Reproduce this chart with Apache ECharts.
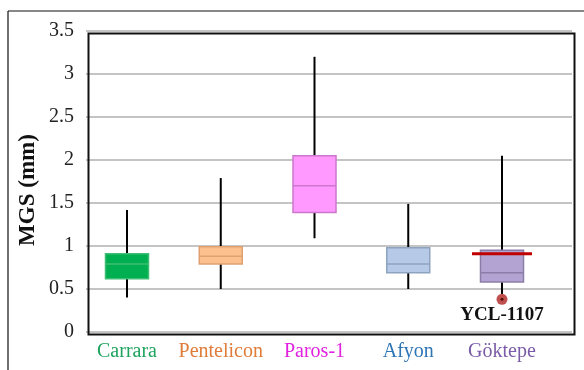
<!DOCTYPE html>
<html><head><meta charset="utf-8">
<script src="https://cdn.jsdelivr.net/npm/echarts@6/dist/echarts.min.js"></script>
<style>html,body{margin:0;padding:0;background:#fff}#c{width:584px;height:370px}</style>
</head><body><div id="c"></div>
<script>
// ---- data ----
const categories = ['Carrara', 'Pentelicon', 'Paros-1', 'Afyon', 'Göktepe'];
const whiskerLow = [0.40, 0.50, 1.09, 0.50, 0.42];
const q1Values   = [0.62, 0.79, 1.39, 0.69, 0.58];
const medians    = [0.79, 0.88, 1.70, 0.79, 0.69];
const q3Values   = [0.91, 0.99, 2.05, 0.98, 0.95];
const whiskerHigh= [1.42, 1.79, 3.20, 1.49, 2.05];
const yTicks = [0, 0.5, 1, 1.5, 2, 2.5, 3, 3.5];
const sampleName = 'YCL-1107';
const sampleCategory = 'Göktepe';
const sampleValue = 0.38;
const referenceLineValue = 0.91;

// ---- styles ----
const fills   = ['#00B050', '#FBC08E', '#FF99FF', '#B6C9E6', '#B3A3D2'];
const borders = ['#3EBE74', '#E0A070', '#CC77CC', '#8EA3BF', '#8C7DA8'];
const labelColors = ['#1FA35E', '#E07B39', '#E021E0', '#2E75B6', '#7A5CA8'];
const serif = '"Liberation Serif", "DejaVu Serif", serif';

const boxData = categories.map((c, i) => [i, whiskerLow[i], q1Values[i], medians[i], q3Values[i], whiskerHigh[i]]);

function renderBox(params, api) {
  const x = api.value(0);
  const lo = api.coord([x, api.value(1)]);
  const q1 = api.coord([x, api.value(2)]);
  const md = api.coord([x, api.value(3)]);
  const q3 = api.coord([x, api.value(4)]);
  const hi = api.coord([x, api.value(5)]);
  const w = 43, cx = lo[0], i = params.dataIndex;
  return {
    type: 'group',
    children: [
      {type: 'line', shape: {x1: cx, y1: hi[1], x2: cx, y2: q3[1]}, style: {stroke: '#000', lineWidth: 2}},
      {type: 'line', shape: {x1: cx, y1: q1[1], x2: cx, y2: lo[1]}, style: {stroke: '#000', lineWidth: 2}},
      {type: 'rect', shape: {x: cx - w / 2, y: q3[1], width: w, height: q1[1] - q3[1]},
        style: {fill: fills[i], stroke: borders[i], lineWidth: 1.5}},
      {type: 'line', shape: {x1: cx - w / 2, y1: md[1], x2: cx + w / 2, y2: md[1]},
        style: {stroke: borders[i], lineWidth: 1.5}}
    ]
  };
}

function renderRefLine(params, api) {
  const p = api.coord([api.value(0), api.value(1)]);
  return {type: 'line', shape: {x1: p[0] - 30, y1: p[1], x2: p[0] + 30, y2: p[1]},
    style: {stroke: '#C00000', lineWidth: 3}};
}

const chart = echarts.init(document.getElementById('c'), null, {renderer: 'canvas'});
const sIdx = categories.indexOf(sampleCategory);
chart.setOption({
  animation: false,
  grid: [
    {left: 86, top: 31, width: 486, height: 301},
    {left: 127, top: 31, width: 375, height: 301}
  ],
  xAxis: [
    {gridIndex: 0, type: 'value', min: 0, max: 1, show: false},
    {gridIndex: 1, type: 'category', data: categories, boundaryGap: false,
      axisLine: {show: false}, axisTick: {show: false}, splitLine: {show: false},
      axisLabel: {interval: 0, hideOverlap: false, margin: 10, fontFamily: serif, fontSize: 20,
        color: (v, i) => labelColors[categories.indexOf(v)]}}
  ],
  yAxis: [
    {gridIndex: 0, type: 'value', min: yTicks[0], max: yTicks[yTicks.length - 1], interval: 0.5,
      axisLine: {show: false}, axisTick: {show: false},
      axisLabel: {margin: 12, fontFamily: serif, fontSize: 20, color: '#222'},
      splitLine: {show: true, lineStyle: {color: '#C4C4C4', width: 2}}},
    {gridIndex: 1, type: 'value', min: yTicks[0], max: yTicks[yTicks.length - 1], show: false}
  ],
  graphic: [
    {type: 'rect', left: 86, top: 31, z: 100, silent: true,
      shape: {width: 486, height: 301}, style: {fill: 'none', stroke: '#111', lineWidth: 2}},
    {type: 'line', z: 100, shape: {x1: 8, y1: 11, x2: 584, y2: 11}, style: {stroke: '#111', lineWidth: 1.2}},
    {type: 'line', z: 100, shape: {x1: 8, y1: 11, x2: 8, y2: 370}, style: {stroke: '#111', lineWidth: 1.2}},
    {type: 'text', x: 28, y: 190, rotation: Math.PI / 2, z: 100,
      style: {text: 'MGS (mm)', font: 'bold 23px ' + serif, fill: '#111', align: 'center', verticalAlign: 'middle'}}
  ],
  series: [
    {type: 'custom', xAxisIndex: 1, yAxisIndex: 1, renderItem: renderBox, data: boxData, z: 5},
    {type: 'custom', xAxisIndex: 1, yAxisIndex: 1, renderItem: renderRefLine,
      data: [[sIdx, referenceLineValue]], z: 6},
    {type: 'scatter', xAxisIndex: 1, yAxisIndex: 1, data: [[sIdx, sampleValue]], symbolSize: 11, z: 6,
      itemStyle: {color: '#C0504D', opacity: 1},
      label: {show: true, position: 'bottom', distance: 1, formatter: sampleName,
        fontFamily: serif, fontWeight: 'bold', fontSize: 19, color: '#111'}},
    {type: 'scatter', xAxisIndex: 1, yAxisIndex: 1, data: [[sIdx, sampleValue]], symbolSize: 3, z: 7,
      itemStyle: {color: '#3a0000'}}
  ]
});
</script></body></html>
